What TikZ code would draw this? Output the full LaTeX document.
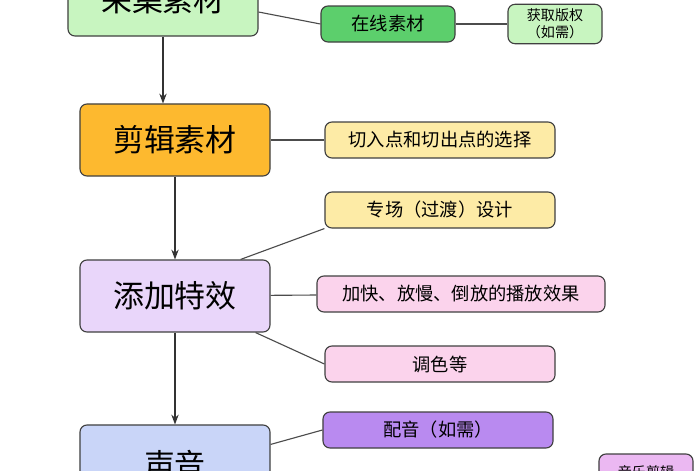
\documentclass[tikz,border=0pt]{standalone}
\usepackage{fontspec}
\setmainfont{Noto Sans CJK SC}
\usetikzlibrary{positioning,arrows.meta}
\definecolor{gLight}{HTML}{C8F5C0}
\definecolor{gMid}{HTML}{5CCF6C}
\definecolor{oMain}{HTML}{FDB92F}
\definecolor{yLight}{HTML}{FDEBA6}
\definecolor{lavMain}{HTML}{E9D6FA}
\definecolor{pLight}{HTML}{FBD3EC}
\definecolor{bMain}{HTML}{C9D5F8}
\definecolor{puMain}{HTML}{B98AF0}
\definecolor{puLight}{HTML}{EBB8F2}
\tikzset{
    stage/.style={draw=black!75, line width=0.8pt, rounded corners=5pt, minimum width=4.75cm, minimum height=1.8cm, font=\fontsize{22}{26}\selectfont},
    detail/.style={draw=black!75, line width=0.8pt, rounded corners=5pt, minimum width=5.75cm, minimum height=0.9cm, font=\fontsize{13}{15}\selectfont},
    link/.style={draw=black!70, line width=0.8pt}
}
\begin{document}
\begin{tikzpicture}[x=0.025cm, y=-0.025cm]
\useasboundingbox (0,0) rectangle (700,470);
\begin{scope}
\clip (0,0) rectangle (700,470);
\node[stage, fill=gLight] (collect) at (163,0) {采集素材};
\node[detail, fill=gMid, minimum width=3.35cm] (online) at (388,24) {在线素材};
\node[detail, fill=gLight, minimum width=2.35cm, align=center, font=\fontsize{10}{12}\selectfont] (rights) at (555,24) {获取版权\\（如需）};
\node[stage, fill=oMain] (edit) at (175,140) {剪辑素材};
\node[detail, fill=yLight] (cut) at (440,140) {切入点和切出点的选择};
\node[detail, fill=yLight] (trans) at (440,210) {专场（过渡）设计};
\node[stage, fill=lavMain] (fx) at (175,296) {添加特效};
\node[detail, fill=pLight, minimum width=7.2cm] (speed) at (461,294) {加快、放慢、倒放的播放效果};
\node[detail, fill=pLight] (grade) at (440,364) {调色等};
\node[stage, fill=bMain, minimum height=2cm] (sound) at (175,465) {声音};
\node[detail, fill=puMain] (dub) at (438,430) {配音（如需）};
\node[detail, fill=puLight, minimum width=2.35cm, font=\fontsize{10}{12}\selectfont] (music) at (646,472) {音乐剪辑};

\draw[-{Stealth[length=7pt]}, black!80, line width=0.8pt] (collect.south) -- (collect.south |- edit.north);
\draw[-{Stealth[length=7pt]}, black!80, line width=0.8pt] (edit) -- (fx);
\draw[-{Stealth[length=7pt]}, black!80, line width=0.8pt] (fx) -- (sound);
\draw[link] (collect.east) ++(0,12) -- (online.west);
\draw[link] (online) -- (rights);
\draw[link] (edit) -- (cut);
\draw[link] (fx.north east) ++(-30,0) -- (trans.south west);
\draw[link] (fx) -- (speed);
\draw[link] (fx.south east) ++(-15,0) -- (grade.west);
\draw[link] (sound.north east) ++(0,20) -- (dub.west);
\end{scope}
\end{tikzpicture}
\end{document}
